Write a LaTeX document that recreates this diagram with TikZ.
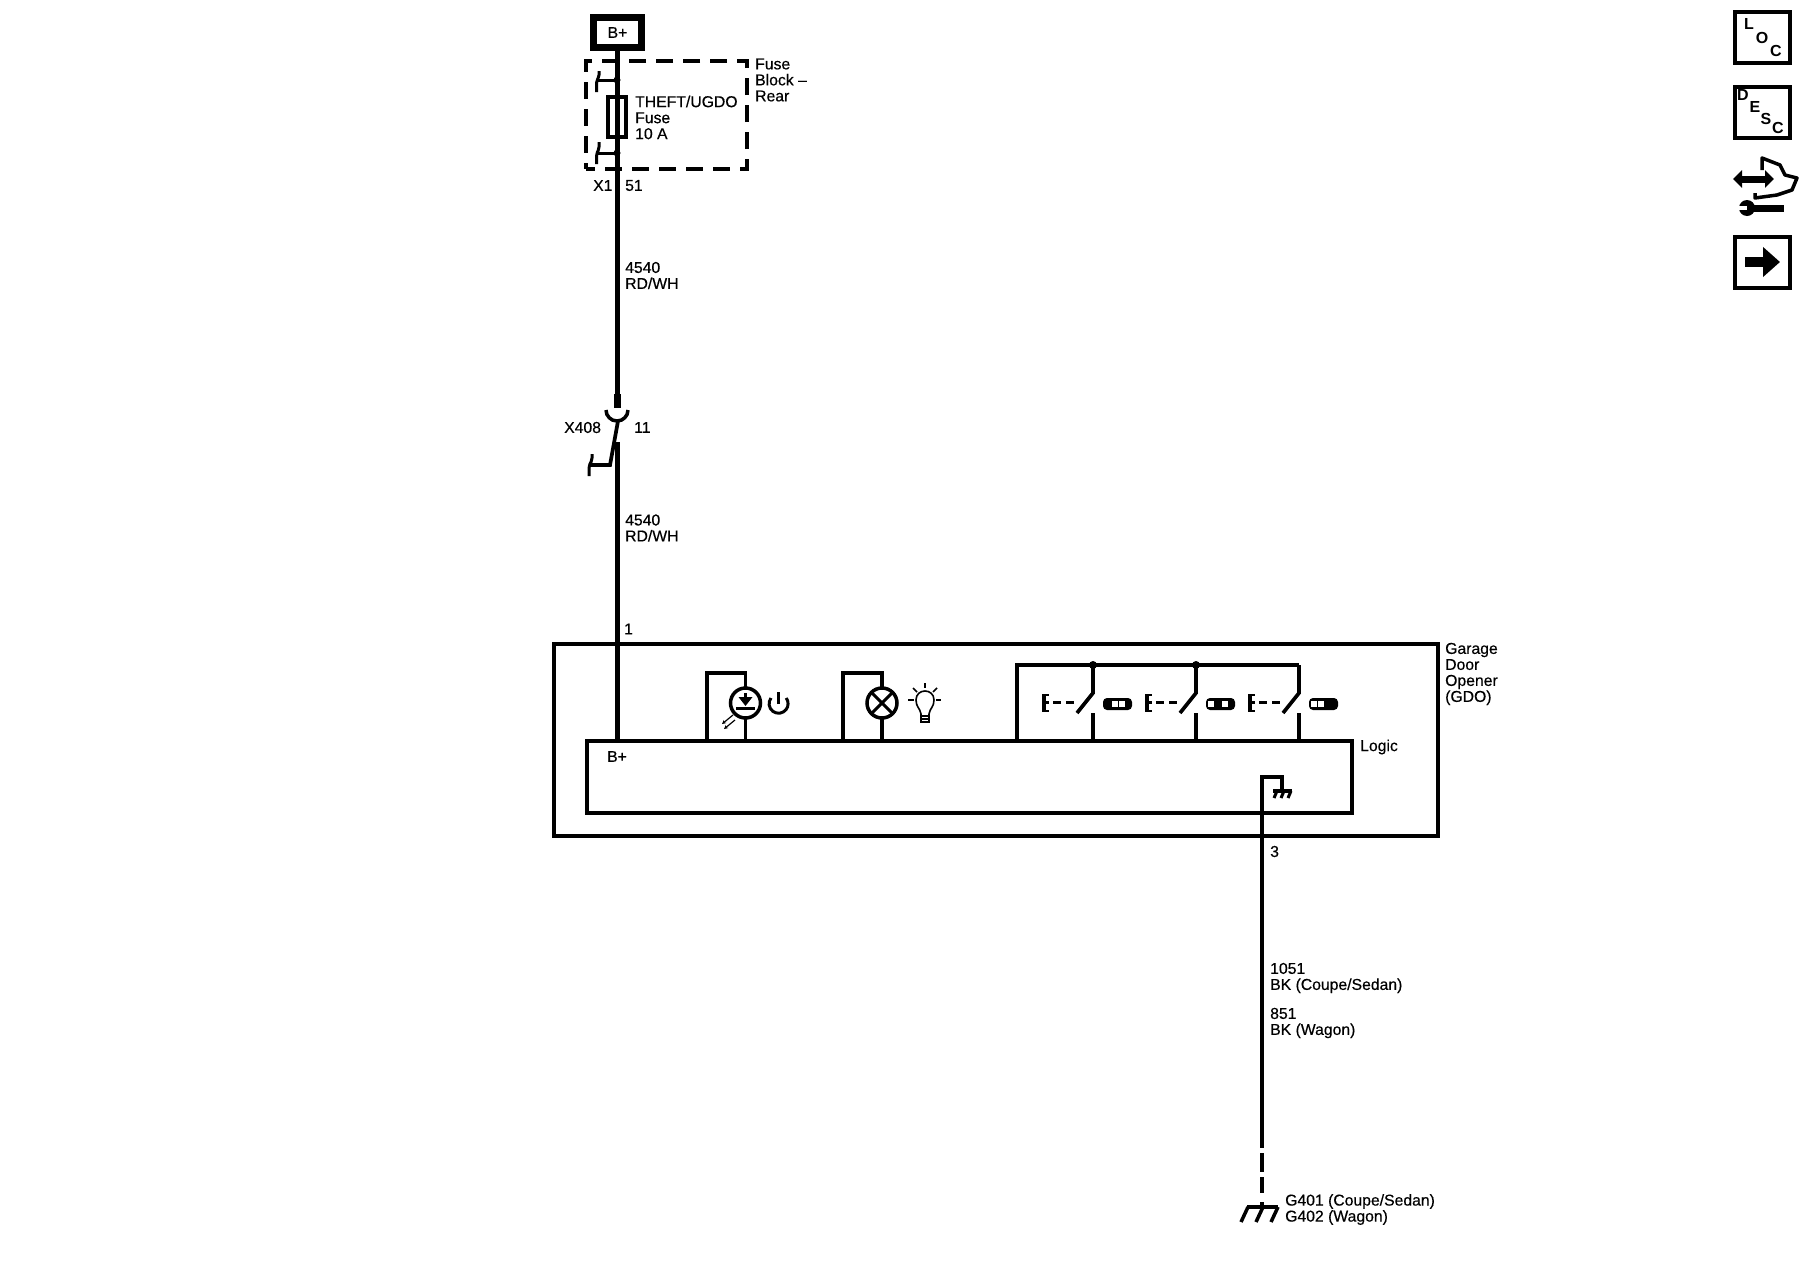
\documentclass[tikz,border=0pt]{standalone}
\usepackage{fontspec}
\setmainfont{Liberation Sans}
\newfontfamily\labfont[FakeBold=0.4]{Liberation Sans}
\usetikzlibrary{arrows.meta}

\begin{document}
\begin{tikzpicture}[x=1pt,y=1pt,yscale=-1]
	\tikzset{
		lab/.style={%
			anchor=west,
			inner sep=0pt,
			align=left,
			font=\labfont\fontsize{15.75}{16}\selectfont},
		letter/.style={%
			inner sep=0pt,
			font=\fontsize{16}{16}\selectfont\bfseries},
		iconbox/.style={%
			draw,
			line width=4pt,
			inner sep=0pt,
			outer sep=0pt,
			minimum width=55pt,
			minimum height=51pt},
		lampring/.style={%
			draw,
			shape=circle,
			fill=white,
			line width=3.5pt,
			inner sep=0pt,
			outer sep=0pt,
			minimum size=30pt}
	}

	\tikzstyle{wire_thick} = [draw=black, line width=5pt]
	\tikzstyle{wire_thin} = [draw=black, line width=3.7pt]
	\tikzstyle{hook_style} = [draw=black, line width=3pt, rounded corners=2pt]

	\useasboundingbox (0,0) rectangle (1800,1280);

	% supply and fuse block
	\node[draw, line width=7pt, inner sep=0pt, outer sep=0pt, minimum width=48pt, minimum height=30pt, font=\labfont\fontsize{15.75}{16}\selectfont] (bplus) at (617.5,32.5) {B+};
	\node[draw, line width=3.5pt, dash pattern=on 17pt off 10pt, dash phase=8pt, inner sep=0pt, outer sep=0pt, minimum width=161pt, minimum height=108pt] (block) at (666.5,115) {};
	\node[draw, line width=3.3pt, inner sep=0pt, outer sep=0pt, minimum width=18pt, minimum height=40pt] (fuse) at (617,117) {};
	\coordinate (hooktop) at (617,80);
	\coordinate (hookbot) at (617,153);
	\coordinate (hooktopend) at (598,80);
	\coordinate (hookbotend) at (598,153);
	\fill (hooktop) circle (3.5pt);
	\fill (hookbot) circle (3.5pt);
	\draw[hook_style] (hooktop) -- (hooktopend);
	\draw[hook_style] (hookbot) -- (hookbotend);
	\draw[hook_style] (599,71) -- (599,77) -- (596.5,81) -- (596.5,92);
	\draw[hook_style] (599,142) -- (599,149) -- (596.5,154) -- (596.5,164);

	% inline connector
	\coordinate (cup) at (617,410);
	\coordinate (pinin) at (618,421);
	\coordinate (pinbend) at (610,465);
	\coordinate (pinend) at (590,465);
	\coordinate (wirein) at (617,442);
	\draw[line width=3.5pt] (628,410) arc (0:180:11pt);
	\draw[line width=7pt] (617,394) -- (617,408);
	\draw[wire_thin] (pinin) -- (pinbend) -- (pinend);
	\draw[hook_style] (592,454) -- (592,460) -- (589,466) -- (589,476);

	% module
	\node[draw, line width=4pt, inner sep=0pt, outer sep=0pt, minimum width=884pt, minimum height=192pt] (gdo) at (996,740) {};
	\node[draw, line width=4pt, inner sep=0pt, outer sep=0pt, minimum width=765pt, minimum height=72pt] (logic) at (969.5,777) {};

	\coordinate (wiretop) at (617,48);
	\coordinate (wirebot) at (617,395);
	\coordinate (logicin) at (617,741);
	\draw[wire_thick] (wiretop) -- (wirebot);
	\draw[wire_thick] (wirein) -- (logicin);

	% indicator
	\node[lampring] (led) at (745.5,703) {};
	\coordinate (ledtop) at (745.5,673);
	\coordinate (ledleft) at (707,673);
	\draw[wire_thin] (logic.north -| ledleft) -- (ledleft) -- (ledtop) -- (led);
	\draw[wire_thin] (led) -- (logic.north -| led);
	\fill (738.5,697) -- (752.5,697) -- (745.5,706) -- cycle;
	\draw[line width=2.5pt] (745.5,693) -- (745.5,699);
	\draw[line width=3pt] (736,708) -- (755,708);
	\draw[line width=1.2pt, -{Stealth[length=4pt,width=4pt]}] (733,715) -- (722,724);
	\draw[line width=1.2pt, -{Stealth[length=4pt,width=4pt]}] (735,720) -- (724,729);
	\coordinate (pwr) at (778.5,704);
	\draw[line width=3pt] (771,698) arc (217:-37:9.5pt);
	\draw[line width=3pt] (pwr) -- (778.5,692);

	% illumination lamp
	\node[lampring] (lamp) at (882,703) {};
	\coordinate (lamptop) at (882,673);
	\coordinate (lampleft) at (843,673);
	\draw[wire_thin] (logic.north -| lampleft) -- (lampleft) -- (lamptop) -- (lamp);
	\draw[wire_thin] (lamp) -- (logic.north -| lamp);
	\draw[line width=3pt] (lamp.45) -- (lamp.225);
	\draw[line width=3pt] (lamp.135) -- (lamp.315);

	% bulb
	\draw[line width=1.6pt] (921,722) -- (921,714) .. controls (920,708) and (916,707) .. (916,700) .. controls (916,688) and (934,688) .. (934,700) .. controls (934,707) and (930,708) .. (929,714) -- (929,722) -- cycle;
	\draw[line width=1.2pt] (921,716) -- (929,716);
	\draw[line width=1.2pt] (921,719) -- (929,719);
	\draw[line width=1.6pt] (925,683) -- (925,688);
	\draw[line width=1.6pt] (908,700) -- (914,700);
	\draw[line width=1.6pt] (936,700) -- (941,700);
	\draw[line width=1.6pt] (913,688) -- (917,692);
	\draw[line width=1.6pt] (937,688) -- (933,692);

	% button switches
	\coordinate (busleft) at (1017,665);
	\coordinate (busright) at (1299,665);
	\draw[wire_thin] (logic.north -| busleft) -- (busleft) -- (busright);
	\foreach \swx/\whta/\whtb in {1093/19/26, 1196/12/26, 1299/12/19}{
		\coordinate (sw\swx) at (\swx,665);
		\coordinate (swtop\swx) at (\swx,693);
		\coordinate (swlow\swx) at (\swx,713);
		\draw[wire_thin] (sw\swx) -- (swtop\swx) -- ++(-16,20);
		\draw[wire_thin] (swlow\swx) -- (logic.north -| swlow\swx);
		\draw[line width=3.5pt] (\swx-49,694) -- (\swx-49,712);
		\draw[line width=2.5pt] (\swx-50,695) -- (\swx-44,695);
		\draw[line width=2.5pt] (\swx-50,702.5) -- (\swx-44,702.5);
		\draw[line width=2.5pt] (\swx-50,711) -- (\swx-44,711);
		\draw[line width=2.8pt, dash pattern=on 8pt off 5pt] (\swx-40,702.5) -- (\swx-19,702.5);
		\fill[rounded corners=4pt] (\swx+10,698) rectangle (\swx+39,710);
		\fill[white] (\swx+\whta,701) rectangle (\swx+\whta+5.5,707);
		\fill[white] (\swx+\whtb,701) rectangle (\swx+\whtb+5.5,707);
	}
	\fill (sw1093) circle (4pt);
	\fill (sw1196) circle (4pt);

	% ground
	\coordinate (gndtop) at (1262,777);
	\coordinate (gndin) at (1282,777);
	\coordinate (gndint) at (1282,790);
	\coordinate (wireend) at (1262,1148);
	\coordinate (gnd) at (1262,1207);
	\draw[wire_thin] (gndint) -- (gndin) -- (gndtop) -- (wireend);
	\draw[line width=3.7pt, dash pattern=on 19pt off 5pt] (wireend) ++(0,5) -- (1262,1193);
	\draw[wire_thin] (1262,1202) -- (gnd);
	\draw[line width=3.5pt] (1247,1207) -- (1278,1207);
	\foreach \gx in {1248,1263,1278}
		\draw[line width=3.5pt] (\gx,1207) -- ++(-7,15);
	\draw[line width=3.5pt] (1273,791) -- (1292,791);
	\foreach \gx in {1277,1284,1291}
		\draw[line width=3pt] (\gx,791) -- ++(-3,7);

	% labels
	\node[lab] (lblock) at (755,80) {Fuse\\Block –\\Rear};
	\node[lab] (lfuse) at (635,117.5) {THEFT/UGDO\\Fuse\\10 A};
	\node[lab] (lxone) at (593,185.5) {X1};
	\node[lab] (lfiftyone) at (625,185.5) {51};
	\node[lab] (lwirea) at (625,275.5) {4540\\RD/WH};
	\node[lab] (lxfour) at (564,427.5) {X408};
	\node[lab] (leleven) at (634,427.5) {11};
	\node[lab] (lwireb) at (625,528) {4540\\RD/WH};
	\node[lab] (lone) at (624,629) {1};
	\node[lab] (lbplus) at (607,756.5) {B+};
	\node[lab] (llogic) at (1360,747) {Logic};
	\node[lab] (lgdo) at (1445,674) {Garage\\Door\\Opener\\(GDO)};
	\node[lab] (lthree) at (1270,851.5) {3};
	\node[lab] (lwirec) at (1270,978) {1051\\BK (Coupe/Sedan)};
	\node[lab] (lwired) at (1270,1023) {851\\BK (Wagon)};
	\node[lab] (lground) at (1285,1209.5) {G401 (Coupe/Sedan)\\G402 (Wagon)};

	% page icons
	\node[iconbox] (locbox) at (1762.5,37.5) {};
	\node[letter] (locl) at (1749,24) {L};
	\node[letter] (loco) at (1762,38) {O};
	\node[letter] (locc) at (1776,50.5) {C};
	\node[iconbox] (descbox) at (1762.5,112.5) {};
	\node[letter] (descd) at (1743,95) {D};
	\node[letter] (desce) at (1755,107) {E};
	\node[letter] (descs) at (1766,118.5) {S};
	\node[letter] (descc) at (1778,128) {C};
	\draw[line width=7pt, {Triangle[width=17pt,length=9pt]}-{Triangle[width=17pt,length=9pt]}] (1733,179) -- (1774,179);
	\draw[line width=3.5pt, line join=round] (1762,170) -- (1762,158) -- (1780,165) -- (1785,175) -- (1797,178) -- (1792,190) -- (1777,195) -- (1755,198) -- (1755,193);
	\draw[line width=7pt] (1748,208) -- (1784,208);
	\fill (1747,208) circle (8pt);
	\fill[white] (1738,206) rectangle (1747,210);
	\node[iconbox] (navbox) at (1762.5,262.5) {};
	\draw[line width=10pt, -{Triangle[width=29pt,length=17pt]}] (1745,262) -- (1780,262);
\end{tikzpicture}
\end{document}
